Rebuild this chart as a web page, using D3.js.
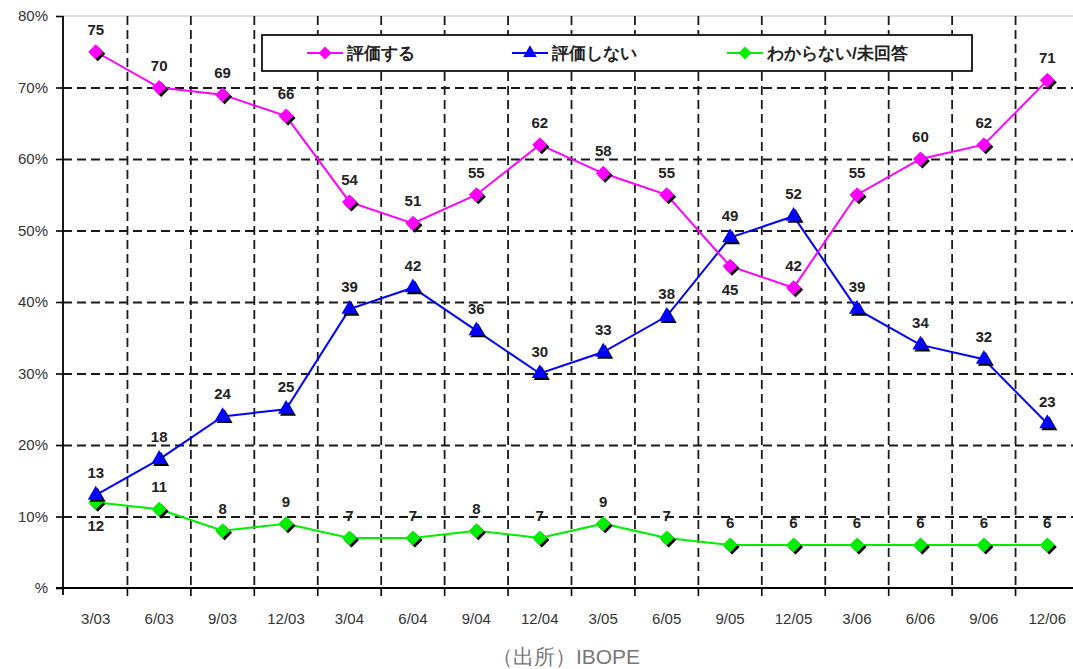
<!DOCTYPE html>
<html>
<head>
<meta charset="utf-8">
<script src="https://cdn.jsdelivr.net/npm/d3@7"></script>
<style>
  body { margin: 0; background: #fff; }
  svg text { font-family: "Liberation Sans", Arial, sans-serif; }
</style>
</head>
<body>
<div id="chart"></div>
<script>
// Sample data
const periods = ["3/03", "6/03", "9/03", "12/03", "3/04", "6/04", "9/04", "12/04",
                 "3/05", "6/05", "9/05", "12/05", "3/06", "6/06", "9/06", "12/06"];
const approve = [75, 70, 69, 66, 54, 51, 55, 62, 58, 55, 45, 42, 55, 60, 62, 71];
const disapprove = [13, 18, 24, 25, 39, 42, 36, 30, 33, 38, 49, 52, 39, 34, 32, 23];
const unknown = [12, 11, 8, 9, 7, 7, 8, 7, 9, 7, 6, 6, 6, 6, 6, 6];
const seriesNames = ["評価する", "評価しない", "わからない/未回答"];
const yTicks = [0, 10, 20, 30, 40, 50, 60, 70, 80];

// label placement: which points get their number under the marker
const belowLabels = { 0: [10], 2: [0] };

/**
 * Builds svg and scales.
 */
function initializeSVG() {
    const W = 1073, H = 669;
    const svg = d3.select("#chart").append("svg")
        .attr("width", W).attr("height", H);
    const x = d3.scaleBand().domain(periods).range([64, 1079]);
    const y = d3.scaleLinear().domain([0, 80]).range([588, 16]);
    return { svg, x, y, W, H };
}

function drawGrid(svg, x, y, W) {
    // top border
    svg.append("line")
        .attr("x1", 63).attr("x2", W).attr("y1", y(80)).attr("y2", y(80))
        .attr("stroke", "#bbb").attr("stroke-width", 1);

    svg.append("g")
        .attr("transform", "translate(63,0)")
        .call(d3.axisLeft(y).tickValues(yTicks.slice(1, -1)).tickSize(-(W - 63)).tickFormat(""))
        .call(g => g.select(".domain").remove())
        .call(g => g.selectAll("line").attr("stroke", "#1a1a1a").attr("stroke-width", 1.8)
            .attr("stroke-dasharray", "9,5"));

    const bounds = periods.slice(1).map(p => x(p));
    svg.append("g").selectAll("line").data(bounds).enter().append("line")
        .attr("x1", d => d).attr("x2", d => d)
        .attr("y1", y(80)).attr("y2", y(0))
        .attr("stroke", "#1a1a1a").attr("stroke-width", 1.8)
        .attr("stroke-dasharray", "9,5");
}

function drawAxes(svg, x, y, W) {
    const yAxis = svg.append("g")
        .attr("transform", "translate(63,0)")
        .call(d3.axisLeft(y).tickValues(yTicks).tickSize(7).tickPadding(8)
            .tickFormat(d => d === 0 ? "%" : d + "%"));
    yAxis.select(".domain").attr("stroke", "#000").attr("stroke-width", 1.8)
        .attr("d", `M0,${y(0) + 7}V${y(80)}`);
    yAxis.selectAll(".tick line").attr("stroke", "#000").attr("stroke-width", 1.6);
    yAxis.selectAll("text").attr("font-size", 15).attr("fill", "#333");

    svg.append("line")
        .attr("x1", 56).attr("x2", W).attr("y1", y(0)).attr("y2", y(0))
        .attr("stroke", "#000").attr("stroke-width", 1.8);

    const bounds = periods.slice(1).map(p => x(p));
    svg.append("g").selectAll("line").data(bounds).enter().append("line")
        .attr("x1", d => d).attr("x2", d => d)
        .attr("y1", y(0)).attr("y2", y(0) + 8)
        .attr("stroke", "#000").attr("stroke-width", 1.6);

    svg.append("g").selectAll("text").data(periods).enter().append("text")
        .attr("x", d => x(d) + x.bandwidth() / 2)
        .attr("y", 624)
        .attr("text-anchor", "middle")
        .attr("font-size", 15)
        .attr("fill", "#333")
        .text(d => d);
}

function markerPath(kind) {
    if (kind === "triangle") return d3.symbol().type(d3.symbolTriangle).size(110)();
    return "M0,-7.5L7.5,0L0,7.5L-7.5,0Z";
}

function drawSeries(svg, x, y, values, color, kind, idx) {
    const cx = i => x(periods[i]) + x.bandwidth() / 2;
    const line = d3.line().x((d, i) => cx(i)).y(d => y(d));
    svg.append("path").datum(values)
        .attr("fill", "none").attr("stroke", color).attr("stroke-width", 2)
        .attr("d", line);

    const g = svg.append("g");
    values.forEach((v, i) => {
        g.append("path").attr("d", markerPath(kind))
            .attr("transform", `translate(${cx(i) + 2},${y(v) + 2})`)
            .attr("fill", "#000");
        g.append("path").attr("d", markerPath(kind))
            .attr("transform", `translate(${cx(i)},${y(v)})`)
            .attr("fill", color);
    });

    const below = belowLabels[idx] || [];
    svg.append("g").selectAll("text").data(values).enter().append("text")
        .attr("x", (d, i) => cx(i))
        .attr("y", (d, i) => below.includes(i) ? y(d) + 29 : y(d) - 17)
        .attr("text-anchor", "middle")
        .attr("font-size", 15)
        .attr("font-weight", "bold")
        .attr("fill", "#222")
        .text(d => d);
}

function drawLegend(svg, colors, kinds) {
    svg.append("rect")
        .attr("x", 262).attr("y", 35).attr("width", 710).attr("height", 36)
        .attr("fill", "#fff").attr("stroke", "#111").attr("stroke-width", 1.8);
    const starts = [307, 512, 727];
    seriesNames.forEach((name, i) => {
        const x0 = starts[i];
        svg.append("line")
            .attr("x1", x0).attr("x2", x0 + 36).attr("y1", 53).attr("y2", 53)
            .attr("stroke", colors[i]).attr("stroke-width", 2);
        svg.append("path").attr("d", kinds[i] === "triangle"
                ? d3.symbol().type(d3.symbolTriangle).size(80)()
                : "M0,-6.5L6.5,0L0,6.5L-6.5,0Z")
            .attr("transform", `translate(${x0 + 18},53)`)
            .attr("fill", colors[i]);
        svg.append("text")
            .attr("x", x0 + 40).attr("y", 59)
            .attr("font-family", "'Noto Sans CJK JP', sans-serif")
            .attr("font-size", 17).attr("font-weight", "bold")
            .attr("fill", "#222")
            .text(name);
    });
}

function addChart() {
    const colors = ["#ff00ff", "#0000ff", "#00ee00"];
    const kinds = ["diamond", "triangle", "diamond"];
    const { svg, x, y, W } = initializeSVG();
    drawGrid(svg, x, y, W);
    drawAxes(svg, x, y, W);
    drawSeries(svg, x, y, unknown, colors[2], kinds[2], 2);
    drawSeries(svg, x, y, disapprove, colors[1], kinds[1], 1);
    drawSeries(svg, x, y, approve, colors[0], kinds[0], 0);
    drawLegend(svg, colors, kinds);

    svg.append("text")
        .attr("x", 566).attr("y", 664)
        .attr("text-anchor", "middle")
        .attr("font-family", "'Noto Sans CJK JP', sans-serif")
        .attr("font-size", 21)
        .attr("fill", "#777")
        .text("（出所）IBOPE");
}

addChart();
</script>
</body>
</html>
